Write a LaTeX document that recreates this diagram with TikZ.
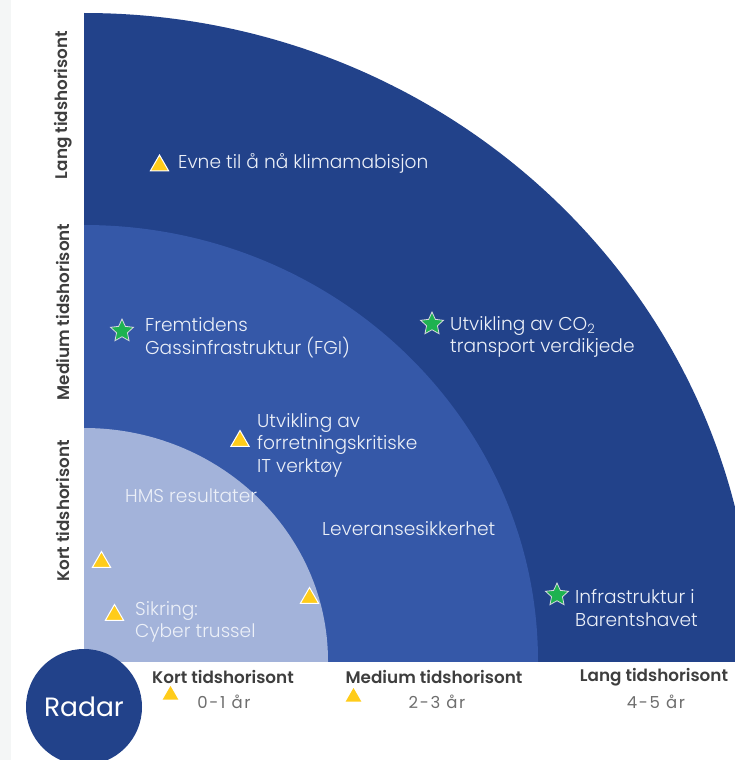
\documentclass[tikz,border=0pt]{standalone}
\usepackage{fontspec}
\setmainfont{Poppins}[UprightFont=* Light, BoldFont=* SemiBold]
\newfontfamily\regfont{Poppins}
\newfontfamily\subfont{Poppins}[LetterSpace=10]
\usetikzlibrary{shapes.geometric}
\definecolor{outerblue}{RGB}{34,66,138}
\definecolor{midblue}{RGB}{53,88,168}
\definecolor{innerblue}{RGB}{163,179,218}
\definecolor{triyellow}{RGB}{255,204,26}
\definecolor{stargreen}{RGB}{30,178,80}
\definecolor{labelgray}{RGB}{62,62,62}
\definecolor{subgray}{RGB}{110,110,110}
\definecolor{stripgray}{RGB}{244,246,246}
\definecolor{itemwhite}{RGB}{236,240,248}
\begin{document}
\begin{tikzpicture}[x=1pt,y=-1pt,
  tri/.style={regular polygon,regular polygon sides=3,minimum size=21pt,inner sep=0pt,fill=triyellow,draw=white,line width=1pt},
  tribottom/.style={regular polygon,regular polygon sides=3,minimum size=18pt,inner sep=0pt,fill=triyellow},
  staricon/.style={star,star points=5,star point ratio=2.1,minimum size=24pt,inner sep=0pt,fill=stargreen,draw=itemwhite!80!gray,line width=0.8pt},
  item/.style={anchor=west,align=left,inner sep=0pt,text=itemwhite,font=\fontsize{18.6}{22.5}\selectfont},
  axislbl/.style={inner sep=0pt,text=labelgray,font=\bfseries\fontsize{16.8}{19}\selectfont},
  sublbl/.style={inner sep=0pt,text=subgray,font=\subfont\fontsize{16.5}{19}\selectfont}]
\useasboundingbox (0,0) rectangle (734,760);
\fill[white] (0,0) rectangle (734,760);
\fill[stripgray] (0,0) rectangle (11,760);
\begin{scope}
  \clip (84,661) rectangle (760,0);
  \fill[outerblue] (84,661) ellipse[x radius=670,y radius=648];
  \fill[midblue] (84,661) ellipse[x radius=454,y radius=436];
  \fill[innerblue] (84,661) ellipse[x radius=244,y radius=233];
\end{scope}
% vertical axis labels
\node[axislbl,rotate=90] (vlang) at (63,105) {Lang tidshorisont};
\node[axislbl,rotate=90] (vmed) at (63,312) {Medium tidshorisont};
\node[axislbl,rotate=90] (vkort) at (63,511) {Kort tidshorisont};
% bottom axis labels
\node[axislbl] (hkort) at (223,677) {Kort tidshorisont};
\node[sublbl] (skort) at (224,702) {0-1 år};
\node[axislbl] (hmed) at (434,677) {Medium tidshorisont};
\node[sublbl] (smed) at (437,702) {2-3 år};
\node[axislbl] (hlang) at (654,677) {Lang tidshorisont};
\node[sublbl] (slang) at (656,702) {4-5 år};
\node[tribottom] (bt1) at (170.5,695) {};
\node[tribottom] (bt2) at (353.5,697) {};
% radar
\node[circle,fill=outerblue,minimum size=116pt,inner sep=0pt,text=white,font=\regfont\fontsize{26.5}{30}\selectfont] (radar) at (84,707) {Radar};
% items
\node[tri] (t1) at (159.5,165.5) {};
\node[item] (i1) at (178,163) {Evne til å nå klimamabisjon};
\node[staricon] (s1) at (122,331) {};
\node[item] (i2) at (145,337.5) {Fremtidens\\Gassinfrastruktur (FGI)};
\node[staricon] (s2) at (432,324) {};
\node[item] (i3) at (450,337) {Utvikling av CO\textsubscript{2}\\transport verdikjede};
\node[tri] (t2) at (240,441) {};
\node[item] (i4) at (257,445) {Utvikling av\\forretningskritiske\\IT verktøy};
\node[item] (i5) at (125,496) {HMS resultater};
\node[item] (i6) at (322,529) {Leveransesikkerhet};
\node[tri] (t3) at (101.5,562) {};
\node[tri] (t4) at (114.5,615) {};
\node[item] (i7) at (135,622) {Sikring:\\Cyber trussel};
\node[tri] (t5) at (309.5,598) {};
\node[staricon] (s3) at (557,595) {};
\node[item] (i8) at (575,608) {Infrastruktur i\\Barentshavet};
\end{tikzpicture}
\end{document}
